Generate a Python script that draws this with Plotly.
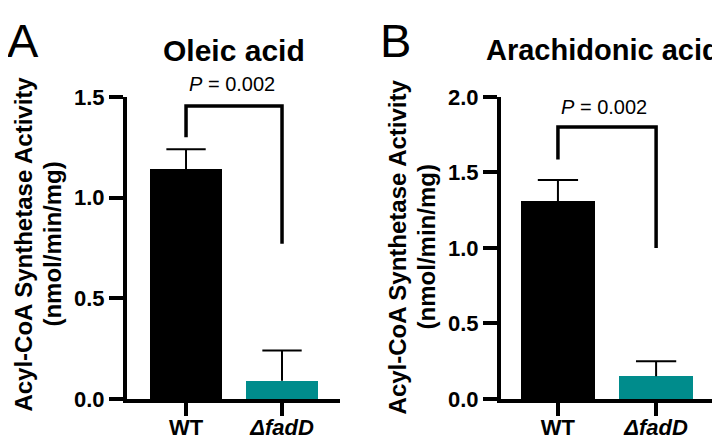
import plotly.graph_objects as go

# ---- data ----
categories = ["WT", "ΔfadD"]
tick_labels = ["WT", "<i>ΔfadD</i>"]
oleic_mean = [1.14, 0.09]
oleic_err = [0.10, 0.15]
arach_mean = [1.31, 0.15]
arach_err = [0.14, 0.10]
p_values = ["0.002", "0.002"]
titles = ["Oleic acid", "Arachidonic acid"]
panel_letters = ["A", "B"]
y_title_lines = ["Acyl-CoA Synthetase Activity", "(nmol/min/mg)"]

W, H = 720, 444
FONT = "Liberation Sans, Arial, sans-serif"
bar_colors = ["#000000", "#008c8c"]

def px(x):
    return x / W

def py(y):
    return 1 - y / H

fig = go.Figure()
xs = [0, 1]
cap_half = 0.205

for i, (means, errs) in enumerate([(oleic_mean, oleic_err), (arach_mean, arach_err)]):
    xa = "x" if i == 0 else "x2"
    ya = "y" if i == 0 else "y2"
    fig.add_trace(go.Bar(
        x=xs, y=means, width=0.75,
        marker=dict(color=bar_colors, line=dict(width=0)),
        xaxis=xa, yaxis=ya, showlegend=False, hoverinfo="skip",
    ))
    # upward-only error bars (stem + cap)
    ex, ey = [], []
    for xi, m, e in zip(xs, means, errs):
        ex += [xi, xi, None, xi - cap_half, xi + cap_half, None]
        ey += [m, m + e, None, m + e, m + e, None]
    fig.add_trace(go.Scatter(
        x=ex, y=ey, mode="lines", line=dict(color="black", width=2),
        xaxis=xa, yaxis=ya, showlegend=False, hoverinfo="skip",
    ))

ydom = [py(401.5), py(81.5)]
axis_common = dict(showline=True, linecolor="black", linewidth=4,
                   ticks="outside", ticklen=14, tickwidth=4, tickcolor="black",
                   showgrid=False, zeroline=False,
                   tickfont=dict(family=FONT, size=22, color="black", weight="bold"))
x_extra = dict(ticklen=13, ticklabelstandoff=-7)

fig.update_layout(
    width=W, height=H,
    margin=dict(l=0, r=0, t=0, b=0),
    paper_bgcolor="white", plot_bgcolor="white",
    bargap=0,
    xaxis=dict(domain=[px(119), px(332)], range=[-0.615, 1.604],
               tickvals=xs, ticktext=tick_labels, anchor="y", **{**axis_common, **x_extra}),
    yaxis=dict(domain=ydom, range=[0, 1.5], tickvals=[0, 0.5, 1.0, 1.5],
               tickformat=".1f", anchor="x", **axis_common),
    xaxis2=dict(domain=[px(493), px(707)], range=[-0.58, 1.6],
                tickvals=xs, ticktext=tick_labels, anchor="y2", **{**axis_common, **x_extra}),
    yaxis2=dict(domain=ydom, range=[0, 2.0], tickvals=[0, 0.5, 1.0, 1.5, 2.0],
                tickformat=".1f", anchor="x2", **axis_common),
)

# significance brackets (left leg bottom, top, right leg bottom) in data units
brackets = [(1.30, 1.455, 0.77, "x", "y"), (1.585, 1.80, 1.0, "x2", "y2")]
for lb, top, rb, xr, yr in brackets:
    fig.add_shape(type="path",
                  path=f"M {xs[0]} {lb} L {xs[0]} {top} L {xs[1]} {top} L {xs[1]} {rb}",
                  xref=xr, yref=yr, line=dict(color="black", width=3.5))

# P value labels (paper coords, centred over bracket)
p_pos = [(224, 68), (596, 92)]
for (x, y), p in zip(p_pos, p_values):
    fig.add_annotation(x=px(x), y=py(y), xref="paper", yref="paper", text=f"<i>P</i> = {p}",
                       showarrow=False, xanchor="center", yanchor="middle",
                       font=dict(family=FONT, size=20, color="black"))

# titles
title_pos = [(226, 32, 30), (595, 32, 29)]
for (x, y, s), t in zip(title_pos, titles):
    fig.add_annotation(x=px(x), y=py(y), xref="paper", yref="paper", text=f"<b>{t}</b>",
                       showarrow=False, xanchor="center", yanchor="middle",
                       font=dict(family=FONT, size=s, color="black"))

# panel letters
letter_pos = [(-3, 22), (370, 22)]
for (x, y), t in zip(letter_pos, panel_letters):
    fig.add_annotation(x=px(x), y=py(y), xref="paper", yref="paper", text=t,
                       showarrow=False, xanchor="left", yanchor="middle",
                       font=dict(family=FONT, size=47, color="black"))

# y-axis titles (two lines each)
ytitle_pos = [((16, 45), 238), ((389, 418), 241)]
for (xl1, xl2), yc in ytitle_pos:
    for xc, line in zip((xl1, xl2), y_title_lines):
        fig.add_annotation(x=px(xc), y=py(yc), xref="paper", yref="paper",
                           text=f"<b>{line}</b>", textangle=-90,
                           showarrow=False, xanchor="center", yanchor="middle",
                           font=dict(family=FONT, size=24, color="black"))

fig.write_html("out.html")
